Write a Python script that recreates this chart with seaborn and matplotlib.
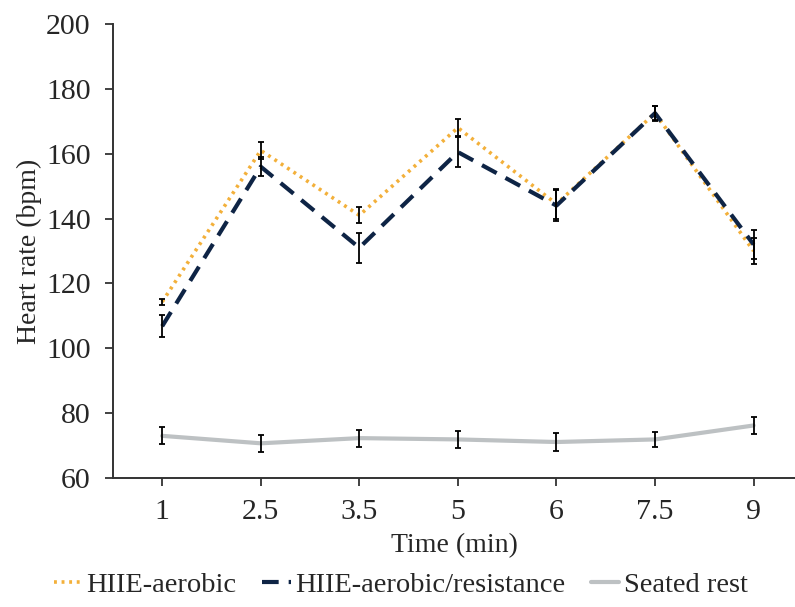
import numpy as np
import pandas as pd
import matplotlib
matplotlib.use("Agg")
import matplotlib.pyplot as plt
import seaborn as sns

# values
time_labels = ["1", "2.5", "3.5", "5", "6", "7.5", "9"]
aerobic = [114.3, 161.0, 141.0, 168.0, 144.5, 172.5, 130.0]
aerobic_err = [1.0, 2.5, 2.5, 2.6, 4.5, 2.3, 4.0]
aer_res = [106.8, 156.0, 131.0, 160.5, 144.0, 172.5, 132.0]
aer_res_err = [3.4, 3.0, 4.6, 4.7, 4.8, 2.2, 4.6]
seated = [73.0, 70.7, 72.3, 71.9, 71.1, 71.9, 76.2]
seated_err = [2.6, 2.7, 2.6, 2.6, 2.7, 2.3, 2.6]

series = ["HIIE-aerobic", "HIIE-aerobic/resistance", "Seated rest"]
colors = {"HIIE-aerobic": "#F3B03A", "HIIE-aerobic/resistance": "#0E2445", "Seated rest": "#BDC1C3"}

pos = np.arange(len(time_labels))
df = pd.DataFrame({
    "pos": np.tile(pos, 3),
    "hr": aerobic + aer_res + seated,
    "err": aerobic_err + aer_res_err + seated_err,
    "group": np.repeat(series, len(pos)),
})

sns.set_style("ticks")
plt.rcParams['font.family'] = ['Liberation Serif', 'DejaVu Serif']

fig = plt.figure(figsize=(7.95, 6.07), dpi=100)
ax = fig.add_axes([0.142, 0.2125, 0.858, 0.748])

styles = {"HIIE-aerobic": dict(ls=(0, (0.8, 1.3)), lw=2.6),
          "HIIE-aerobic/resistance": dict(ls=(0, (4.0, 2.4)), lw=3.0),
          "Seated rest": dict(ls="-", lw=3.0)}

for name in series:
    sub = df[df["group"] == name]
    sns.lineplot(data=sub, x="pos", y="hr", ax=ax, color=colors[name],
                 label=name, linestyle=styles[name]["ls"], lw=styles[name]["lw"],
                 errorbar=None, zorder=2)
    ax.errorbar(sub["pos"], sub["hr"], yerr=sub["err"], fmt="none",
                ecolor="black", elinewidth=1.3, capsize=2.2, capthick=1.3, zorder=3)

ax.set_xlim(-0.5, 6.42)
ax.set_ylim(60, 200)
ax.set_yticks(range(60, 201, 20))
ax.set_xticks(pos)
ax.set_xticklabels(time_labels)
ax.tick_params(axis="both", labelsize=21.5, length=6, width=1.3, color="#333333")
ax.tick_params(axis="x", pad=9)
ax.tick_params(axis="y", pad=10)
for s in ["top", "right"]:
    ax.spines[s].set_visible(False)
for s in ["left", "bottom"]:
    ax.spines[s].set_linewidth(1.4)
    ax.spines[s].set_color("#333333")

ax.set_xlabel("Time (min)", fontsize=20, labelpad=6)
ax.set_ylabel("Heart rate (bpm)", fontsize=20, labelpad=3)

ax.legend(loc="center", bbox_to_anchor=(0.504, 0.036), bbox_transform=fig.transFigure,
          ncol=3, frameon=False, fontsize=20.5, handlelength=1.0, handletextpad=0.15,
          columnspacing=0.9, borderaxespad=0, borderpad=0)

fig.savefig("out.png", dpi=100)
